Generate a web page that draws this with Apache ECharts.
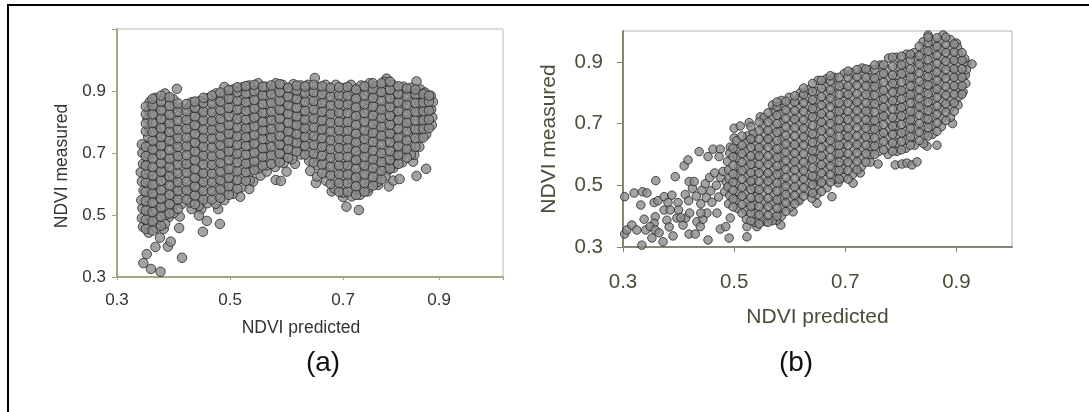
<!DOCTYPE html>
<html><head><meta charset="utf-8">
<script src="https://cdn.jsdelivr.net/npm/echarts@6/dist/echarts.min.js"></script>
<style>html,body{margin:0;padding:0;background:#fff}#c{width:1089px;height:412px}</style>
</head><body><div id="c"></div>
<script>
const xTicksA=[0.3,0.5,0.7,0.87];
const xTickMarksA=[0.3,0.5,0.7,0.87,0.983];
const xTickLabelsA=['0.3','0.5','0.7','0.9'];
const yTicksA=[0.3,0.5,0.7,0.9];
const xTicksB=[0.3,0.5,0.7,0.9];
const yTicksB=[0.3,0.5,0.7,0.9];
const captions=['(a)','(b)'];
const pointsA=[
[.3466,.345],[.3526,.374],[.36,.326],[.377,.317],[.368,.397],[.39,.398],[.395,.414],[.415,.362],[.376,.427],[.3826,.455],[.41,.458],[.392,.494],[.411,.495],[.452,.446],[.482,.471],[.459,.481],[.432,.519],[.449,.519],[.445,.498],[.479,.519],[.406,.907],[.518,.559],[.534,.584],[.541,.608],[.541,.649],[.554,.627],[.565,.64],[.581,.613],[.59,.61],[.6,.64],[.615,.665],[.642,.642],[.652,.603],[.654,.624],[.68,.576],[.70,.558],[.706,.527],[.728,.516],[.73,.565],[.744,.576],[.762,.597],[.781,.592],[.789,.611],[.80,.616],[.78,.645],[.789,.652],[.83,.626],[.847,.649],[.824,.672],[.826,.694],[.83,.931],[.777,.94],[.789,.689],[.806,.70],[.65,.942],
[.346,.462],[.344,.49],[.345,.522],[.343,.548],[.347,.579],[.344,.608],[.342,.638],[.346,.665],[.345,.70],[.344,.728],
[.356,.443],[.355,.472],[.357,.5],[.354,.527],[.356,.556],[.358,.585],[.355,.612],[.357,.64],[.354,.668],[.356,.697],[.358,.725],[.355,.752],[.357,.78],[.354,.81],[.356,.838],[.358,.865],
[.37,.458],[.371,.486],[.369,.514],[.372,.541],[.37,.57],[.368,.597],[.371,.626],[.373,.654],[.37,.681],[.368,.71],[.371,.738],[.373,.766],[.369,.795],[.372,.823],[.37,.85],[.368,.878],
[.385,.472],[.386,.5],[.384,.528],[.387,.556],[.383,.584],[.386,.613],[.384,.641],[.388,.668],[.385,.696],[.383,.725],[.387,.753],[.384,.781],[.386,.81],[.383,.837],[.387,.864],[.385,.892],
[.40,.506],[.401,.534],[.399,.561],[.402,.59],[.4,.62],[.398,.647],[.401,.675],[.403,.703],[.399,.732],[.402,.76],[.4,.788],[.398,.816],[.402,.845],[.4,.873],
[.415,.536],[.414,.565],[.416,.592],[.413,.62],[.417,.65],[.415,.677],[.413,.706],[.416,.734],[.414,.761],[.417,.79],[.415,.818],[.413,.846],
[.43,.54],[.431,.568],[.429,.596],[.432,.625],[.428,.652],[.431,.68],[.429,.709],[.432,.737],[.43,.765],[.428,.793],[.431,.822],[.429,.85],[.432,.864],
[.445,.53],[.446,.559],[.444,.587],[.447,.614],[.443,.643],[.446,.671],[.444,.7],[.447,.727],[.445,.755],[.443,.784],[.446,.812],[.444,.84],[.447,.868],
[.46,.538],[.459,.566],[.461,.595],[.458,.623],[.462,.65],[.46,.679],[.458,.707],[.461,.735],[.459,.764],[.462,.792],[.46,.82],[.458,.848],[.461,.877],
[.475,.536],[.476,.562],[.474,.59],[.477,.618],[.473,.646],[.476,.675],[.474,.703],[.477,.731],[.475,.76],[.473,.788],[.476,.816],[.474,.844],[.477,.872],[.475,.892],
[.49,.548],[.491,.577],[.489,.605],[.492,.633],[.488,.661],[.491,.69],[.489,.718],[.492,.746],[.49,.774],[.488,.802],[.491,.83],[.489,.859],[.492,.887],[.49,.913],
[.505,.568],[.504,.596],[.506,.623],[.503,.652],[.507,.68],[.505,.708],[.503,.736],[.506,.765],[.504,.793],[.507,.821],[.505,.85],[.503,.877],[.506,.905],
[.52,.59],[.521,.618],[.519,.646],[.522,.675],[.518,.703],[.521,.73],[.519,.758],[.522,.787],[.52,.815],[.518,.843],[.521,.872],[.519,.9],[.522,.912],
[.535,.612],[.536,.64],[.534,.668],[.537,.696],[.533,.724],[.536,.753],[.534,.781],[.537,.809],[.535,.838],[.533,.866],[.536,.894],[.534,.918],
[.55,.65],[.549,.678],[.551,.707],[.548,.735],[.552,.763],[.55,.791],[.548,.82],[.551,.848],[.549,.875],[.552,.903],[.55,.925],
[.565,.66],[.566,.688],[.564,.717],[.567,.745],[.563,.773],[.566,.801],[.564,.83],[.567,.858],[.565,.886],[.563,.914],
[.58,.655],[.581,.683],[.579,.711],[.582,.74],[.578,.768],[.581,.796],[.579,.825],[.582,.853],[.58,.881],[.578,.909],[.581,.925],
[.595,.668],[.596,.697],[.594,.725],[.597,.753],[.593,.782],[.596,.81],[.594,.838],[.597,.866],[.595,.894],[.593,.92],
[.61,.68],[.609,.708],[.611,.736],[.608,.765],[.612,.793],[.61,.82],[.608,.849],[.611,.877],[.609,.905],[.612,.922],
[.625,.695],[.626,.723],[.624,.752],[.627,.78],[.623,.808],[.626,.836],[.624,.865],[.627,.893],[.625,.918],
[.64,.675],[.641,.703],[.639,.731],[.642,.76],[.638,.788],[.641,.816],[.639,.845],[.642,.873],[.64,.9],[.638,.92],
[.655,.66],[.654,.688],[.656,.716],[.653,.745],[.657,.773],[.655,.8],[.653,.829],[.656,.857],[.654,.885],[.657,.913],
[.67,.61],[.671,.638],[.669,.667],[.672,.695],[.668,.723],[.671,.751],[.669,.78],[.672,.808],[.67,.836],[.668,.864],[.671,.893],[.669,.92],
[.685,.585],[.686,.613],[.684,.642],[.687,.67],[.683,.698],[.686,.726],[.684,.755],[.687,.783],[.685,.811],[.683,.84],[.686,.868],[.684,.896],[.687,.92],
[.70,.572],[.701,.6],[.699,.628],[.702,.656],[.698,.685],[.701,.713],[.699,.741],[.702,.77],[.7,.798],[.698,.826],[.701,.854],[.699,.882],[.702,.91],
[.715,.56],[.714,.588],[.716,.617],[.713,.645],[.717,.673],[.715,.701],[.713,.73],[.716,.758],[.714,.786],[.717,.814],[.715,.843],[.713,.871],[.716,.899],[.714,.92],
[.73,.58],[.731,.608],[.729,.636],[.732,.665],[.728,.693],[.731,.721],[.729,.75],[.732,.778],[.73,.806],[.728,.834],[.731,.862],[.729,.891],[.732,.918],
[.745,.588],[.746,.616],[.744,.645],[.747,.673],[.743,.7],[.746,.729],[.744,.757],[.747,.785],[.745,.814],[.743,.842],[.746,.87],[.744,.898],[.747,.925],
[.76,.605],[.761,.633],[.759,.662],[.762,.69],[.758,.718],[.761,.746],[.759,.775],[.762,.803],[.76,.831],[.758,.86],[.761,.888],[.759,.915],
[.775,.625],[.774,.653],[.776,.681],[.773,.71],[.777,.738],[.775,.766],[.773,.795],[.776,.823],[.774,.851],[.777,.88],[.775,.907],[.773,.93],
[.79,.665],[.791,.693],[.789,.72],[.792,.749],[.788,.777],[.791,.805],[.789,.834],[.792,.862],[.79,.89],[.788,.92],
[.805,.67],[.804,.698],[.806,.727],[.803,.755],[.807,.783],[.805,.811],[.803,.84],[.806,.868],[.804,.896],[.807,.914],
[.82,.695],[.821,.723],[.819,.751],[.822,.78],[.818,.808],[.821,.836],[.819,.865],[.822,.893],[.82,.91],
[.835,.72],[.836,.748],[.834,.776],[.837,.805],[.833,.833],[.836,.861],[.834,.89],[.837,.905],
[.847,.76],[.848,.788],[.846,.816],[.849,.845],[.847,.873],[.845,.895],
[.857,.79],[.858,.815],[.856,.84],[.859,.865],[.855,.885]
];
const columnsA=[
[.351,.455,.485,.515,.545,.575,.605,.632,.66,.69,.72,.77,.795,.825,.85],
[.363,.45,.48,.51,.54,.57,.598,.628,.655,.683,.712,.74,.768,.797,.825,.853,.875],
[.378,.465,.495,.525,.553,.58,.61,.64,.667,.695,.724,.752,.78,.81,.838,.866,.885],
[.393,.505,.535,.565,.595,.625,.655,.682,.71,.74,.768,.796,.824,.852,.88],
[.408,.52,.55,.578,.606,.635,.663,.69,.72,.748,.776,.804,.833,.86],
[.423,.55,.58,.608,.637,.665,.693,.722,.75,.778,.807,.835,.858],
[.438,.535,.563,.592,.62,.648,.677,.705,.733,.761,.79,.818,.846,.866],
[.453,.55,.578,.607,.635,.663,.692,.72,.748,.776,.805,.833,.861,.878],
[.468,.55,.578,.606,.634,.662,.69,.718,.747,.775,.803,.832,.86,.885],
[.483,.555,.583,.612,.64,.668,.696,.725,.753,.782,.81,.838,.866,.895],
[.498,.565,.593,.62,.648,.677,.705,.733,.762,.79,.818,.846,.875,.903],
[.513,.585,.613,.641,.67,.698,.726,.754,.782,.81,.84,.868,.896,.912],
[.528,.61,.638,.666,.695,.723,.751,.78,.808,.836,.864,.892,.916],
[.543,.645,.673,.701,.73,.758,.786,.815,.843,.871,.899,.92],
[.558,.66,.688,.716,.745,.773,.8,.83,.858,.886,.914],
[.573,.665,.693,.721,.75,.778,.806,.834,.862,.89,.918],
[.588,.67,.698,.727,.755,.783,.811,.84,.868,.896,.922],
[.603,.685,.713,.741,.77,.798,.826,.854,.882,.91],
[.618,.705,.733,.761,.79,.818,.846,.874,.902,.918],
[.633,.695,.723,.752,.78,.808,.836,.865,.893,.915],
[.648,.67,.698,.726,.755,.783,.811,.84,.868,.896,.92],
[.663,.635,.663,.692,.72,.748,.776,.805,.833,.861,.89,.915],
[.678,.6,.628,.656,.685,.713,.741,.77,.798,.826,.854,.882,.91],
[.693,.575,.603,.632,.66,.688,.716,.745,.773,.801,.83,.858,.886,.912],
[.708,.575,.603,.631,.66,.688,.716,.744,.772,.8,.829,.857,.885,.913],
[.723,.565,.593,.622,.65,.678,.706,.735,.763,.791,.82,.848,.876,.905],
[.738,.575,.603,.631,.66,.688,.716,.745,.773,.801,.829,.857,.886,.915],
[.753,.595,.623,.652,.68,.708,.736,.765,.793,.821,.85,.878,.906,.925],
[.768,.615,.643,.671,.7,.728,.756,.785,.813,.841,.869,.897,.925],
[.783,.65,.678,.706,.735,.763,.791,.82,.848,.876,.904,.93],
[.798,.665,.693,.722,.75,.778,.806,.835,.863,.891,.915],
[.813,.685,.713,.741,.77,.798,.826,.855,.883,.908],
[.828,.72,.748,.777,.805,.833,.861,.89,.905],
[.842,.75,.778,.806,.835,.863,.89],
[.852,.78,.808,.837,.865,.885]
];
const pointsB=[
[.303,.463],[.32,.475],[.335,.479],[.343,.475],[.332,.436],[.359,.515],[.356,.444],[.363,.45],[.394,.528],[.374,.463],[.388,.468],[.381,.444],[.374,.42],[.399,.444],[.385,.42],
[.303,.342],[.307,.355],[.316,.371],[.325,.355],[.338,.39],[.341,.355],[.358,.398],[.356,.377],[.349,.366],[.358,.355],[.352,.329],[.365,.346],[.334,.306],[.372,.317],[.379,.387],[.383,.365],[.39,.336],[.397,.394],[.408,.371],[.413,.394],[.419,.342],[.43,.342],[.433,.382],[.439,.366],[.444,.39],[.451,.41],[.453,.323],[.469,.41],[.475,.358],[.485,.366],[.491,.329],[.493,.394],[.523,.333],[.523,.366],[.541,.366],[.557,.382],[.584,.371],[.577,.387],[.606,.414],[.615,.452],[.649,.442],[.64,.458],[.676,.463],[.667,.492],[.649,.512],[.687,.508],[.714,.507],[.727,.54],[.745,.575],[.759,.569],[.79,.566],[.802,.569],[.811,.572],[.82,.566],[.829,.576],[.865,.63],[.847,.627],[.893,.70],[.437,.609],[.41,.563],[.417,.582],[.419,.512],[.462,.617],[.453,.593],[.475,.617],[.473,.593],[.493,.624],[.5,.685],[.511,.692],[.527,.703],[.5,.653],[.547,.722],[.534,.653],
[.849,.987],[.876,.987],[.9,.961],[.918,.895],[.928,.893],[.912,.803],
[.412,.47],[.418,.45],[.425,.49],[.432,.465],[.428,.512],[.44,.44],[.442,.484],[.448,.505],[.45,.46],[.456,.525],[.458,.482],[.46,.445],[.465,.54],[.468,.5],[.472,.462],[.476,.525],[.48,.545],[.483,.48],[.486,.51],[.4,.42],[.404,.395],[.42,.41],[.44,.41],
[.49,.44],[.492,.467],[.489,.495],[.491,.522],[.49,.55],[.488,.577],[.492,.604],
[.506,.425],[.505,.453],[.507,.48],[.504,.507],[.506,.535],[.508,.562],[.505,.59],[.507,.617],[.505,.645],
[.522,.39],[.521,.418],[.523,.445],[.52,.472],[.522,.5],[.524,.527],[.521,.555],[.523,.582],[.52,.61],[.522,.637],[.524,.66],
[.537,.38],[.538,.408],[.536,.435],[.539,.462],[.537,.49],[.535,.518],[.538,.545],[.536,.572],[.539,.6],[.537,.628],[.535,.668],
[.553,.39],[.552,.417],[.554,.445],[.551,.472],[.553,.5],[.555,.527],[.552,.555],[.554,.582],[.551,.61],[.553,.637],[.555,.665],[.552,.692],[.554,.72],
[.569,.385],[.57,.412],[.568,.44],[.571,.467],[.569,.495],[.567,.522],[.57,.55],[.568,.577],[.571,.605],[.569,.632],[.567,.66],[.57,.687],[.568,.715],[.571,.742],[.569,.76],
[.585,.4],[.586,.427],[.584,.455],[.587,.482],[.585,.51],[.583,.537],[.586,.565],[.584,.592],[.587,.62],[.585,.647],[.583,.675],[.586,.702],[.584,.73],[.587,.757],[.585,.775],
[.601,.43],[.6,.457],[.602,.485],[.599,.512],[.601,.54],[.603,.567],[.6,.595],[.602,.622],[.599,.65],[.601,.677],[.603,.705],[.6,.732],[.602,.76],[.599,.785],
[.617,.45],[.618,.478],[.616,.505],[.619,.532],[.617,.56],[.615,.587],[.618,.615],[.616,.642],[.619,.67],[.617,.697],[.615,.725],[.618,.752],[.616,.78],[.619,.8],
[.633,.48],[.632,.507],[.634,.535],[.631,.562],[.633,.59],[.635,.617],[.632,.645],[.634,.672],[.631,.7],[.633,.727],[.635,.755],[.632,.782],[.634,.81],
[.649,.47],[.65,.5],[.648,.53],[.651,.557],[.649,.585],[.647,.612],[.65,.64],[.648,.667],[.651,.695],[.649,.722],[.647,.75],[.65,.777],[.648,.805],[.651,.84],
[.665,.52],[.664,.547],[.666,.575],[.663,.602],[.665,.63],[.667,.657],[.664,.685],[.666,.712],[.663,.74],[.665,.767],[.667,.795],[.664,.822],[.666,.845],
[.681,.52],[.682,.548],[.68,.575],[.683,.602],[.681,.63],[.679,.657],[.682,.685],[.68,.712],[.683,.74],[.681,.767],[.679,.795],[.682,.822],[.68,.85],
[.697,.525],[.696,.552],[.698,.58],[.695,.607],[.697,.635],[.699,.662],[.696,.69],[.698,.717],[.695,.745],[.697,.772],[.699,.8],[.696,.827],[.698,.862],
[.713,.535],[.714,.562],[.712,.59],[.715,.617],[.713,.645],[.711,.672],[.714,.7],[.712,.727],[.715,.755],[.713,.782],[.711,.81],[.714,.837],[.712,.865],
[.729,.56],[.728,.587],[.73,.615],[.727,.642],[.729,.67],[.731,.697],[.728,.725],[.73,.752],[.727,.78],[.729,.807],[.731,.835],[.728,.862],[.73,.88],
[.745,.6],[.746,.627],[.744,.655],[.747,.682],[.745,.71],[.743,.737],[.746,.765],[.744,.792],[.747,.82],[.745,.847],[.743,.875],
[.761,.61],[.76,.637],[.762,.665],[.759,.692],[.761,.72],[.763,.747],[.76,.775],[.762,.802],[.759,.83],[.761,.857],[.763,.89],
[.777,.6],[.778,.627],[.776,.655],[.779,.682],[.777,.71],[.775,.737],[.778,.765],[.776,.792],[.779,.82],[.777,.847],[.775,.875],[.778,.912],
[.793,.61],[.792,.637],[.794,.665],[.791,.692],[.793,.72],[.795,.747],[.792,.775],[.794,.802],[.791,.83],[.793,.857],[.795,.885],[.792,.915],
[.809,.62],[.81,.647],[.808,.675],[.811,.702],[.809,.73],[.807,.757],[.81,.785],[.808,.812],[.811,.84],[.809,.867],[.807,.895],[.81,.925],
[.825,.63],[.824,.657],[.826,.685],[.823,.712],[.825,.74],[.827,.767],[.824,.795],[.826,.822],[.823,.85],[.825,.877],[.827,.905],[.824,.93],
[.841,.635],[.842,.662],[.84,.69],[.843,.717],[.841,.745],[.839,.772],[.842,.8],[.84,.827],[.843,.855],[.841,.882],[.839,.91],[.842,.937],[.84,.965],
[.857,.665],[.856,.692],[.858,.72],[.855,.747],[.857,.775],[.859,.802],[.856,.83],[.858,.857],[.855,.885],[.857,.912],[.859,.94],[.856,.967],
[.873,.69],[.874,.717],[.872,.745],[.875,.772],[.873,.8],[.871,.827],[.874,.855],[.872,.882],[.875,.91],[.873,.937],[.871,.965],
[.889,.72],[.888,.747],[.89,.775],[.887,.802],[.889,.83],[.891,.857],[.888,.885],[.89,.912],[.887,.94],[.889,.972],
[.903,.76],[.904,.787],[.902,.815],[.905,.842],[.903,.87],[.901,.897],[.904,.925],[.902,.947],
[.917,.83],[.916,.857],[.918,.875],[.915,.91]
];
const columnsB=[
[.498,.43,.456,.484,.51,.537,.564,.592,.62],
[.514,.41,.438,.465,.493,.52,.548,.575,.603,.63,.66],
[.53,.385,.41,.432,.46,.487,.514,.541,.568,.595,.623,.65,.69],
[.545,.375,.404,.431,.458,.486,.513,.54,.568,.595,.622,.65,.677,.705],
[.561,.38,.403,.431,.458,.486,.513,.54,.568,.595,.623,.65,.678,.705,.735],
[.577,.4,.426,.453,.481,.508,.535,.563,.59,.618,.645,.672,.7,.727,.755,.77],
[.593,.415,.443,.47,.497,.525,.552,.58,.607,.634,.662,.689,.717,.744,.772],
[.609,.44,.467,.495,.522,.55,.577,.604,.632,.66,.687,.714,.742,.77,.79],
[.625,.465,.492,.52,.547,.575,.602,.63,.657,.684,.712,.739,.767,.794,.815],
[.641,.475,.502,.53,.557,.585,.612,.639,.667,.694,.722,.749,.777,.804,.83],
[.657,.48,.51,.54,.567,.595,.622,.65,.677,.705,.732,.76,.787,.815,.84],
[.673,.51,.535,.562,.59,.617,.645,.672,.7,.727,.754,.782,.809,.837,.855],
[.689,.52,.548,.575,.603,.63,.658,.685,.712,.74,.767,.795,.822,.85],
[.705,.52,.548,.575,.603,.63,.658,.685,.713,.74,.767,.795,.822,.85,.87],
[.721,.55,.577,.605,.632,.66,.687,.714,.742,.77,.797,.824,.852,.875],
[.737,.575,.602,.63,.657,.685,.712,.74,.767,.794,.822,.849,.877],
[.753,.6,.627,.654,.682,.71,.737,.764,.792,.82,.847,.875,.89],
[.769,.615,.642,.67,.697,.724,.752,.78,.807,.834,.862,.89],
[.785,.61,.637,.665,.692,.72,.747,.774,.802,.83,.857,.885,.915],
[.801,.615,.642,.67,.697,.725,.752,.78,.807,.834,.862,.89,.918],
[.817,.63,.657,.685,.712,.74,.767,.794,.822,.85,.877,.905,.925],
[.833,.645,.672,.7,.727,.755,.782,.81,.837,.864,.892,.92,.95],
[.849,.66,.687,.715,.742,.77,.797,.825,.852,.88,.907,.935,.962,.98],
[.865,.675,.702,.73,.757,.785,.812,.84,.867,.895,.922,.95,.978],
[.881,.71,.737,.764,.792,.82,.847,.875,.902,.93,.957,.98],
[.896,.74,.767,.795,.822,.85,.877,.905,.932,.958],
[.91,.795,.822,.85,.877,.905,.93]
];
const fromColumns=cols=>cols.flatMap(c=>c.slice(1).map(y=>[c[0],y]));
const allA=pointsA.concat(fromColumns(columnsA));
const allB=pointsB.concat(fromColumns(columnsB));
const tickFont="'Liberation Sans',Arial,sans-serif";
function axisCommon(lineColor){return{
  axisLine:{show:true,onZero:false,lineStyle:{color:lineColor,width:2}},
  splitLine:{show:false},
  nameLocation:'middle'
};}
const option={
  animation:false,backgroundColor:'#fff',
  graphic:[
    {type:'rect',shape:{x:7,y:4,width:2,height:408},style:{fill:'#000'}},
    {type:'rect',shape:{x:7,y:4,width:1082,height:2},style:{fill:'#000'}},
    {type:'text',x:323,y:363,style:{text:captions[0],fill:'#111',font:"28px 'Liberation Sans'",textAlign:'center',textVerticalAlign:'middle'}},
    {type:'text',x:796,y:363,style:{text:captions[1],fill:'#111',font:"28px 'Liberation Sans'",textAlign:'center',textVerticalAlign:'middle'}}
  ],
  grid:[
    {left:117,top:29,width:386,height:248,show:true,borderColor:'#b9b9b0',borderWidth:1,containLabel:false},
    {left:623,top:31,width:389,height:216,show:true,borderColor:'#b4b4ac',borderWidth:1,containLabel:false}
  ],
  xAxis:[
    Object.assign(axisCommon('#a3a585'),{gridIndex:0,type:'value',min:0.3,max:0.983,name:'NDVI predicted',nameGap:42,
      nameTextStyle:{color:'#333',fontSize:17.5,fontFamily:tickFont,padding:[0,18,0,0]},
      axisTick:{show:true,length:3,customValues:xTickMarksA,lineStyle:{color:'#a3a585'}},
      axisLabel:{show:true,customValues:xTicksA,margin:15,color:'#333',fontSize:17,fontFamily:tickFont,formatter:v=>xTickLabelsA[xTicksA.indexOf(v)]}}),
    Object.assign(axisCommon('#85866f'),{gridIndex:1,type:'value',min:0.3,max:1.0,name:'NDVI predicted',nameGap:60,
      nameTextStyle:{color:'#4a4e38',fontSize:21,fontFamily:tickFont},
      axisTick:{show:true,length:5,customValues:xTicksB,lineStyle:{color:'#85866f'}},
      axisLabel:{show:true,customValues:xTicksB,margin:25,color:'#4a4e38',fontSize:20.5,fontFamily:tickFont,formatter:v=>v.toFixed(1)}})
  ],
  yAxis:[
    Object.assign(axisCommon('#a3a585'),{gridIndex:0,type:'value',min:0.3,max:1.1,name:'NDVI measured',nameGap:46,
      nameTextStyle:{color:'#333',fontSize:17.5,fontFamily:tickFont,padding:[0,26,0,0]},
      axisTick:{show:true,length:5,customValues:[0.3,0.5,0.7,0.9,1.1],lineStyle:{color:'#a3a585'}},
      axisLabel:{show:true,customValues:yTicksA,margin:11,color:'#333',fontSize:17,fontFamily:tickFont,formatter:v=>v.toFixed(1)}}),
    Object.assign(axisCommon('#85866f'),{gridIndex:1,type:'value',min:0.3,max:1.0,name:'NDVI measured',nameGap:63,
      nameTextStyle:{color:'#4a4e38',fontSize:21,fontFamily:tickFont},
      axisTick:{show:true,length:6,customValues:yTicksB,lineStyle:{color:'#85866f'}},
      axisLabel:{show:true,customValues:yTicksB,margin:20,color:'#4a4e38',fontSize:20.5,fontFamily:tickFont,formatter:v=>v.toFixed(1)}})
  ],
  series:[
    {type:'scatter',xAxisIndex:0,yAxisIndex:0,data:allA,symbol:'circle',symbolSize:9.5,clip:false,itemStyle:{color:'#8c8c8c',borderColor:'#262626',borderWidth:1}},
    {type:'scatter',xAxisIndex:1,yAxisIndex:1,data:allB,symbol:'circle',symbolSize:8.5,clip:false,itemStyle:{color:'#8c8c8c',borderColor:'#262626',borderWidth:1}}
  ]
};
echarts.init(document.getElementById('c'),null,{renderer:'canvas'}).setOption(option);
</script></body></html>
